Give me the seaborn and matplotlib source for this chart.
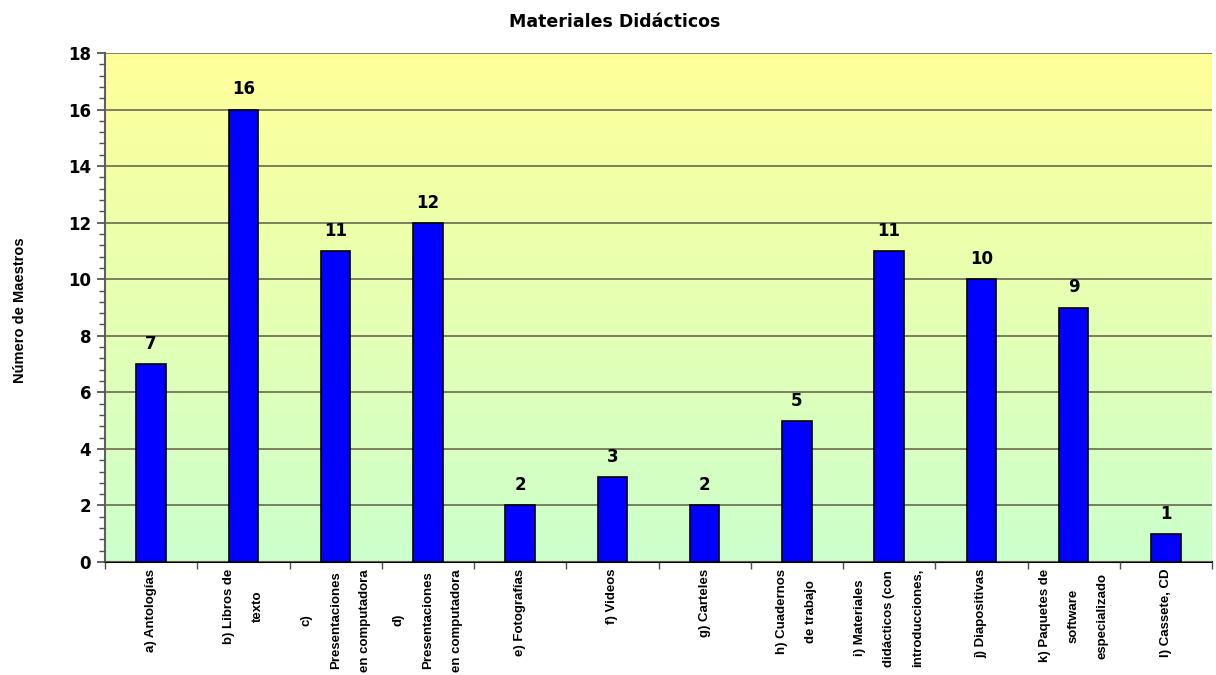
"""Materiales Didácticos: bar chart recreated with seaborn."""

import matplotlib

matplotlib.use("Agg")
import matplotlib.pyplot as plt
import numpy as np
import seaborn as sns
from matplotlib.colors import LinearSegmentedColormap
from matplotlib.ticker import MultipleLocator

categories = [
    "a) Antologías",
    "b) Libros de\ntexto",
    "c)\nPresentaciones\nen computadora",
    "d)\nPresentaciones\nen computadora",
    "e) Fotografías",
    "f) Videos",
    "g) Carteles",
    "h) Cuadernos\nde trabajo",
    "i) Materiales\ndidácticos (con\nintroducciones,",
    "j) Diapositivas",
    "k) Paquetes de\nsoftware\nespecializado",
    "l) Cassete, CD",
]
counts = [7, 16, 11, 12, 2, 3, 2, 5, 11, 10, 9, 1]

title = "Materiales Didácticos"
y_label = "Número de Maestros"

sns.set_theme(style="white")
plt.rcParams["font.family"] = ["Liberation Sans", "DejaVu Sans"]
plt.rcParams["text.color"] = "black"
plt.rcParams["xtick.labelcolor"] = "black"
plt.rcParams["ytick.labelcolor"] = "black"

fig = plt.figure(figsize=(12.16, 6.75), dpi=100)
ax = fig.add_axes([105 / 1216, 113 / 675, 1107 / 1216, 509 / 675])

# gradient background: yellow at top to pale green at bottom
cmap = LinearSegmentedColormap.from_list("bg", ["#ccffcc", "#ffff99"])
grad = np.linspace(0, 1, 256).reshape(-1, 1)
ax.imshow(grad, cmap=cmap, aspect="auto", extent=[0, 1, 0, 1],
          transform=ax.transAxes, origin="lower", zorder=0)

sns.barplot(x=list(range(len(counts))), y=counts, color="#0000ff", saturation=1,
            width=0.32, edgecolor="black", linewidth=1.2, ax=ax, zorder=3)

ax.set_xlim(-0.5, len(counts) - 0.5)
ax.set_ylim(0, 18)
ax.yaxis.set_major_locator(MultipleLocator(2))
ax.yaxis.set_minor_locator(MultipleLocator(0.4))
ax.grid(axis="y", which="major", color="#6a6a50", linewidth=1.2, zorder=1)
ax.set_axisbelow(False)
for line in ax.get_ygridlines():
    line.set_zorder(1)

for i, v in enumerate(counts):
    ax.annotate(str(v), (i, v), xytext=(0, 8), textcoords="offset points",
                ha="center", va="bottom", fontsize=12, fontweight="bold",
                family=["DejaVu Sans"], color="black")

ax.set_xticks(range(len(counts)))
ax.set_xticklabels(categories, rotation=90, ha="center", va="top",
                   multialignment="center", linespacing=2.9,
                   fontsize=9.5, fontweight="bold", color="black")
ax.set_xticks(np.arange(-0.5, len(counts)), minor=True)
ax.tick_params(axis="x", which="major", length=0, pad=5)
ax.tick_params(axis="x", which="minor", length=5, color="#505050",
               direction="out", bottom=True)
ax.tick_params(axis="y", which="major", length=6, color="#505050",
               direction="out", left=True, labelsize=12, pad=4)
ax.tick_params(axis="y", which="minor", length=4, color="#505050",
               direction="out", left=True)
for lab in ax.get_yticklabels():
    lab.set_fontweight("bold")
    lab.set_family(["DejaVu Sans"])
    lab.set_color("black")

for side in ["top", "right"]:
    ax.spines[side].set_visible(False)
ax.spines["left"].set_color("#606060")
ax.spines["left"].set_linewidth(1.5)
ax.spines["bottom"].set_color("black")
ax.spines["bottom"].set_linewidth(1.5)
ax.set_xlabel("")
ax.set_ylabel("")

fig.text(615 / 1216, 1 - 22 / 675, title, ha="center", va="center",
         fontsize=12.5, fontweight="bold", family=["DejaVu Sans"], color="black")
fig.text(20 / 1216, 1 - 310 / 675, y_label, ha="center", va="center",
         rotation=90, fontsize=10.5, fontweight="bold", color="black")

fig.savefig("out.png", dpi=100)
